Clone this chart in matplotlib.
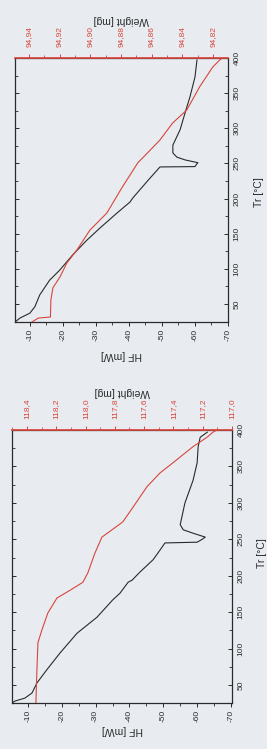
import matplotlib
matplotlib.use("Agg")
import matplotlib.pyplot as plt
from matplotlib.ticker import MultipleLocator, FuncFormatter, FixedLocator

plt.rcParams['font.family'] = ['Liberation Sans', 'DejaVu Sans']

# ---- upper chart (sample 1) ----
up_hf_tr = [24.4, 30, 37, 46, 63, 84, 98, 120, 141, 158, 179.5, 195, 201, 226, 245,
            245.5, 249, 251, 255, 259, 265, 276, 288, 298, 322, 345, 373, 397]
up_hf = [-5.5, -7, -10, -11.5, -13, -16, -19, -23, -27.3, -31.2, -36.4, -40.3, -41.2, -45.8, -49.4,
         -60, -60.5, -60.9, -57, -54.5, -53.3, -53.3, -54.5, -55.5, -57, -58.5, -60, -60.6]
up_w_tr = [24.4, 30, 31.5, 55.7, 73, 88.4, 108.3, 127, 155, 179.5, 215, 251, 258, 283,
           307.5, 326, 359, 387, 397, 400]
up_w = [94.938, 94.934, 94.926, 94.9257, 94.9244, 94.9198, 94.9153, 94.9087, 94.9003, 94.8892,
        94.8795, 94.869, 94.8658, 94.8547, 94.8463, 94.8371, 94.8287, 94.8202, 94.8157, 94.814]

# ---- lower chart (sample 2) ----
lo_hf_tr = [25.3, 28, 32, 39, 53, 71, 94, 121, 143, 167, 176, 191, 194, 205, 222, 235, 245,
            246, 250, 253, 258, 263, 270, 283, 300, 331, 355, 377, 390, 397]
lo_hf = [-5.3, -6.2, -9.1, -11.2, -12.7, -15.6, -19.5, -24.5, -30.4, -35.1, -37.2, -39.6, -40.8,
         -43.1, -47, -49, -50.5, -60, -61.5, -62.4, -59, -55.9, -55, -55.6, -56.4, -58.8, -60,
         -60.3, -60.9, -63]
lo_w_tr = [25.3, 70.6, 108, 125.5, 149, 169.4, 180, 191, 204, 231, 253, 261, 274, 294, 322,
           341, 355, 377, 390, 397, 400]
lo_w = [118.339, 118.332, 118.325, 118.298, 118.257, 118.195, 118.106, 118.018, 117.984,
        117.936, 117.888, 117.833, 117.745, 117.676, 117.581, 117.492, 117.403, 117.267,
        117.171, 117.13, 117.103]

tr_ticks = [50, 100, 150, 200, 250, 300, 350, 400]

W, H = 267, 749
bg = "#e8ecf0"
red = "#d8453c"
ink = "#2a2a2a"
fig = plt.figure(figsize=(W / 100, H / 100), dpi=100, facecolor=bg)


def comma(fmt):
    return FuncFormatter(lambda v, p: (fmt % v).replace(".", ","))


def panel(box, hf_lim, w_lim, tr_lim, w_step, w_fmt, hf_tr, hf, w_tr, w,
          w_label_y, hf_label_y, tr_label):
    l, t, r, b = box
    ax = fig.add_axes([l / W, 1 - b / H, (r - l) / W, (b - t) / H], facecolor=bg)
    ax.plot(hf, hf_tr, color=ink, lw=0.8)
    ax.set_xlim(hf_lim)
    ax.set_ylim(tr_lim)

    # HF axis (drawn along the bottom)
    ax.xaxis.set_major_locator(MultipleLocator(10))
    ax.xaxis.set_minor_locator(MultipleLocator(5))
    ax.xaxis.set_major_formatter(FuncFormatter(lambda v, p: "%d" % v))
    ax.tick_params(axis="x", which="both", direction="out", labelsize=6, labelrotation=90,
                   pad=2, colors=ink)
    ax.tick_params(axis="x", which="major", length=3, width=0.7)
    ax.tick_params(axis="x", which="minor", length=2, width=0.6)

    # Tr axis (drawn along the right)
    ax.yaxis.set_major_locator(FixedLocator(tr_ticks))
    ax.yaxis.set_minor_locator(MultipleLocator(25))
    ax.yaxis.tick_right()
    ax.tick_params(axis="y", which="both", direction="in", left=True, right=True,
                   labelleft=False, labelright=True, labelsize=6, labelrotation=90,
                   pad=4, colors=ink)
    ax.tick_params(axis="y", which="major", length=3, width=0.7)
    ax.tick_params(axis="y", which="minor", length=2, width=0.6)
    for lab in ax.get_yticklabels():
        lab.set_va("center")
    for s in ax.spines.values():
        s.set_linewidth(0.9)
        s.set_color(ink)

    # weight axis (drawn along the top, red)
    ax2 = ax.twiny()
    ax2.plot(w, w_tr, color=red, lw=0.8)
    ax2.set_xlim(w_lim)
    ax2.xaxis.set_major_locator(MultipleLocator(w_step))
    ax2.xaxis.set_minor_locator(MultipleLocator(w_step / 2))
    ax2.xaxis.set_major_formatter(comma(w_fmt))
    ax2.tick_params(axis="x", which="both", direction="out", colors=red, labelsize=6,
                    labelrotation=90, pad=5)
    ax2.tick_params(axis="x", which="major", length=3, width=0.7)
    ax2.tick_params(axis="x", which="minor", length=2, width=0.6)
    ax2.spines["top"].set_color(red)
    ax2.spines["top"].set_linewidth(1.2)
    for s in ["left", "right", "bottom"]:
        ax2.spines[s].set_visible(False)

    cx = (l + r) / 2
    fig.text(cx / W, 1 - w_label_y / H, "Weight [mg]", rotation=180, ha="center",
             va="center", fontsize=7.5, color=ink)
    fig.text(cx / W, 1 - hf_label_y / H, "HF [mW]", rotation=180, ha="center",
             va="center", fontsize=7.5, color=ink)
    fig.text(tr_label[0] / W, 1 - tr_label[1] / H, "Tr [°C]", rotation=90, ha="center",
             va="center", fontsize=7.5, color=ink)
    return ax


panel((15, 58, 228, 322), (-5.5, -70), (94.9491, 94.8102), (24.4, 400), 0.02, "%.2f",
      up_hf_tr, up_hf, up_w_tr, up_w, 20, 355, (259, 192))
panel((12, 430, 232, 703), (-5.3, -70.3), (118.502, 117.0), (25.3, 400), 0.2, "%.1f",
      lo_hf_tr, lo_hf, lo_w_tr, lo_w, 392, 730, (262, 553))

fig.savefig("out.png", dpi=100, facecolor=bg)
